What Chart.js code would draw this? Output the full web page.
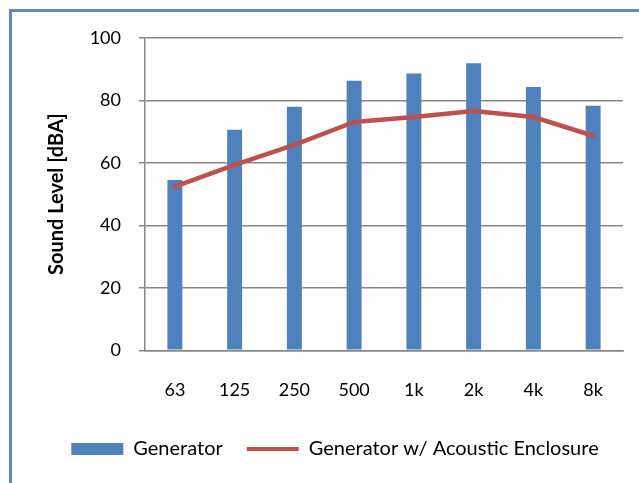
<!DOCTYPE html>
<html lang="en">
<head>
    <meta charset="UTF-8">
    <title>Sound Level</title>
    <script src="https://cdn.jsdelivr.net/npm/chart.js"></script>
    <style>
        body {
            margin: 0;
            padding: 0;
            background-color: white;
            font-family: Lato, sans-serif;
        }
        .frame {
            position: absolute;
            left: 9px;
            top: 9px;
            width: 660px;
            height: 500px;
            border-left: 3px solid #5a8bc8;
            border-top: 3px solid #5a8bc8;
        }
        .chart-container {
            position: absolute;
            left: 0;
            top: 0;
            width: 639px;
            height: 483px;
        }
    </style>
</head>
<body>
    <div class="frame"></div>
    <div class="chart-container">
        <canvas id="soundChart" width="639" height="483"></canvas>
    </div>

    <script>
        // data
        const bands = ['63', '125', '250', '500', '1k', '2k', '4k', '8k'];
        const generator = [54.5, 70.6, 78.0, 86.3, 88.6, 91.9, 84.3, 78.3];
        const withEnclosure = [52.4, 59.4, 65.8, 73.1, 74.7, 76.6, 74.7, 68.7];
        const yTicks = [0, 20, 40, 60, 80, 100];

        const barColor = '#4f81bd';
        const lineColor = '#c0504d';
        const gridColor = '#878787';

        Chart.defaults.font.family = 'Lato, sans-serif';
        Chart.defaults.font.size = 18;
        Chart.defaults.color = '#000';

        const ctx = document.getElementById('soundChart').getContext('2d');
        new Chart(ctx, {
            data: {
                labels: bands,
                datasets: [
                    {
                        type: 'bar',
                        label: 'Generator',
                        data: generator,
                        backgroundColor: barColor,
                        borderWidth: 0,
                        categoryPercentage: 1,
                        barPercentage: 0.25,
                        order: 1
                    },
                    {
                        type: 'line',
                        label: 'Generator w/ Acoustic Enclosure',
                        data: withEnclosure,
                        borderColor: lineColor,
                        backgroundColor: lineColor,
                        borderWidth: 4.5,
                        borderCapStyle: 'round',
                        borderJoinStyle: 'round',
                        pointRadius: 0,
                        tension: 0,
                        order: 0
                    }
                ]
            },
            options: {
                responsive: false,
                animation: false,
                layout: {
                    padding: { left: 47, right: 16, top: 38, bottom: 14 }
                },
                plugins: {
                    title: { display: false },
                    tooltip: { enabled: false },
                    legend: {
                        position: 'bottom',
                        labels: {
                            font: { size: 20 },
                            usePointStyle: true,
                            pointStyleWidth: 52,
                            boxHeight: 12,
                            padding: 24,
                            generateLabels: function (chart) {
                                return [
                                    {
                                        text: 'Generator',
                                        pointStyle: 'rect',
                                        fillStyle: barColor,
                                        strokeStyle: barColor,
                                        lineWidth: 0,
                                        datasetIndex: 0
                                    },
                                    {
                                        text: 'Generator w/ Acoustic Enclosure',
                                        pointStyle: 'line',
                                        fillStyle: lineColor,
                                        strokeStyle: lineColor,
                                        lineWidth: 4,
                                        datasetIndex: 1
                                    }
                                ];
                            }
                        }
                    }
                },
                scales: {
                    x: {
                        grid: { display: false },
                        border: { color: gridColor, width: 1.5 },
                        ticks: { padding: 21, maxRotation: 0 },
                        afterFit: function (scale) {
                            scale.height = 64.7;
                        }
                    },
                    y: {
                        min: 0,
                        max: 100,
                        afterBuildTicks: function (scale) {
                            scale.ticks = yTicks.map(v => ({ value: v }));
                        },
                        grid: { color: gridColor, lineWidth: 1.5, tickLength: 6 },
                        border: { color: gridColor, width: 1.5 },
                        ticks: { padding: 18 },
                        title: {
                            display: true,
                            text: 'Sound Level [dBA]',
                            font: { size: 20, weight: 'bold' },
                            padding: { top: -2, bottom: 0 }
                        },
                        afterFit: function (scale) {
                            scale.width = 98;
                        }
                    }
                }
            }
        });
    </script>
</body>
</html>
